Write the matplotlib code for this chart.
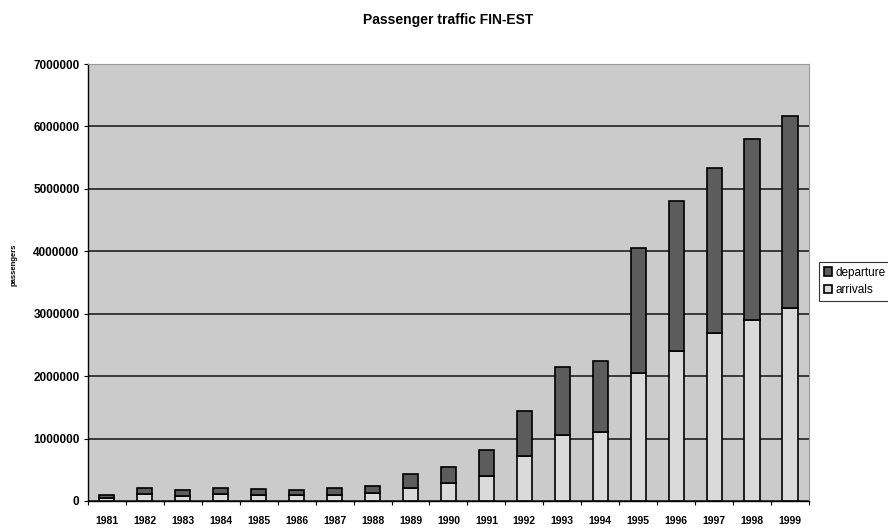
import numpy as np
import matplotlib
matplotlib.use("Agg")
import matplotlib.pyplot as plt
from matplotlib.ticker import MultipleLocator, FixedLocator

# Passenger traffic Finland-Estonia, per year
years = [str(y) for y in range(1981, 2000)]
arrivals = [50000, 105000, 85000, 105000, 100000, 90000, 100000, 120000,
            200000, 290000, 400000, 720000, 1050000, 1110000, 2050000,
            2400000, 2690000, 2900000, 3090000]
departures = [50000, 105000, 85000, 105000, 95000, 85000, 100000, 120000,
              230000, 260000, 420000, 720000, 1100000, 1130000, 2000000,
              2410000, 2650000, 2900000, 3080000]

BG = "#cbcbcb"
DARK = "#5c5c5c"
LIGHT = "#dadada"

plt.rcParams["font.family"] = ["Liberation Sans", "DejaVu Sans"]

fig = plt.figure(figsize=(8.88, 5.29), dpi=100)
ax = fig.add_axes([0.099, 0.053, 0.812, 0.826])
ax.set_facecolor(BG)

x = np.arange(len(years))
w = 0.4
ax.bar(x, arrivals, w, color=LIGHT, edgecolor="black", linewidth=1.2,
       label="arrivals", zorder=3)
ax.bar(x, departures, w, bottom=arrivals, color=DARK, edgecolor="black",
       linewidth=1.2, label="departure", zorder=3)

ax.set_xlim(-0.5, len(years) - 0.5)
ax.set_ylim(0, 7000000)
ax.yaxis.set_major_locator(MultipleLocator(1000000))
ax.yaxis.grid(True, color="#3a3a3a", linewidth=1.4, zorder=1)
ax.set_axisbelow(True)

ax.set_xticks(x)
ax.set_xticklabels(years, fontsize=7.5, fontweight="bold")
ax.tick_params(axis="x", which="major", length=0, pad=11)
ax.xaxis.set_minor_locator(FixedLocator(np.arange(-0.5, len(years), 1.0)))
ax.tick_params(axis="x", which="minor", length=3, width=0.8)
ax.set_yticks(np.arange(0, 7000001, 1000000))
ax.set_yticklabels([f"{v}" for v in range(0, 7000001, 1000000)],
                   fontsize=8.5, fontweight="bold")
ax.tick_params(axis="y", length=3, width=0.8, pad=3)

for side in ("top", "right"):
    ax.spines[side].set_color("#9a9a9a")
    ax.spines[side].set_linewidth(0.8)
for side in ("left", "bottom"):
    ax.spines[side].set_linewidth(1.0)

ax.set_ylabel("passengers", fontsize=5.5, fontweight="bold")
ax.yaxis.set_label_coords(-0.097, 0.54)
fig.suptitle("Passenger traffic FIN-EST", fontsize=10, fontweight="bold",
             x=0.505, y=0.975)

handles, labels = ax.get_legend_handles_labels()
leg = fig.legend(handles[::-1], labels[::-1], loc="upper left",
                 bbox_to_anchor=(819 / 888, 1 - 262 / 529),
                 fontsize=8.5, frameon=True, fancybox=False,
                 handlelength=0.7, handleheight=0.7, handletextpad=0.3,
                 borderpad=0.4, labelspacing=0.45, borderaxespad=0)
leg.get_frame().set_edgecolor("black")
leg.get_frame().set_linewidth(0.8)

fig.savefig("out.png", dpi=100)
